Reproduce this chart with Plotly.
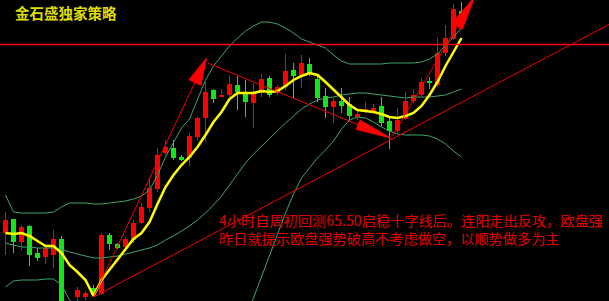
import plotly.graph_objects as go

# 4-hour bars (price)
opens = [66.13, 66.27, 66.04, 66.20, 65.93, 65.89, 65.91, 66.07, 65.34, 65.49,
         65.49, 65.58, 65.52, 66.11, 66.02, 65.99, 66.06, 66.23, 66.38, 66.57,
         66.93, 66.98, 66.89, 66.88, 67.09, 67.28, 67.56, 67.49, 67.51, 67.61,
         67.53, 67.43, 67.53, 67.68, 67.53, 67.59, 67.76, 67.71, 67.82, 67.67,
         67.50, 67.39, 67.45, 67.42, 67.29, 67.34, 67.35, 67.40, 67.25, 67.15,
         67.27, 67.45, 67.51, 67.65, 67.61, 67.93, 68.07, 68.35]
highs = [66.34, 66.27, 66.21, 66.21, 65.98, 65.99, 66.16, 66.10, 65.43, 65.59,
         65.55, 65.61, 66.13, 66.13, 66.03, 66.09, 66.26, 66.43, 66.69, 66.98,
         67.06, 67.06, 66.91, 67.13, 67.30, 67.64, 67.57, 67.57, 67.71, 67.70,
         67.66, 67.63, 67.72, 67.70, 67.61, 67.92, 67.83, 67.91, 67.88, 67.72,
         67.58, 67.49, 67.58, 67.49, 67.35, 67.44, 67.42, 67.49, 67.29, 67.38,
         67.54, 67.57, 67.68, 67.69, 68.08, 68.21, 68.42, 68.44]
lows = [65.91, 65.93, 65.96, 65.80, 65.85, 65.82, 65.78, 65.26, 65.18, 65.44,
        65.46, 65.50, 65.51, 65.96, 65.97, 65.96, 66.03, 66.22, 66.34, 66.54,
        66.91, 66.86, 66.85, 66.80, 67.06, 67.04, 67.43, 67.49, 67.49, 67.36,
        67.29, 67.18, 67.49, 67.49, 67.51, 67.56, 67.48, 67.58, 67.70, 67.44,
        67.28, 67.23, 67.33, 67.24, 67.26, 67.33, 67.33, 67.20, 66.97, 67.13,
        67.26, 67.43, 67.49, 67.57, 67.59, 67.90, 68.06, 68.30]
closes = [66.26, 66.04, 66.19, 65.91, 65.88, 65.98, 66.07, 65.34, 65.28, 65.56,
          65.53, 65.51, 66.11, 66.02, 65.98, 66.07, 66.23, 66.39, 66.58, 66.91,
          66.99, 66.88, 66.86, 67.10, 67.28, 67.54, 67.47, 67.51, 67.62, 67.54,
          67.44, 67.53, 67.67, 67.51, 67.59, 67.75, 67.70, 67.83, 67.73, 67.48,
          67.39, 67.45, 67.40, 67.30, 67.32, 67.37, 67.38, 67.23, 67.15, 67.26,
          67.45, 67.51, 67.64, 67.63, 67.93, 68.08, 68.37, 68.32]

# Moving average (yellow)
ma_line = [66.13, 66.12, 66.13, 66.10, 66.05, 66.00, 66.00, 65.93, 65.81, 65.74,
           65.66, 65.50, 65.66, 65.76, 65.86, 65.96, 66.07, 66.13, 66.24, 66.42,
           66.59, 66.71, 66.81, 66.89, 66.99, 67.11, 67.24, 67.34, 67.47, 67.53,
           67.53, 67.53, 67.55, 67.54, 67.55, 67.60, 67.66, 67.70, 67.73, 67.71,
           67.64, 67.56, 67.48, 67.41, 67.36, 67.35, 67.34, 67.32, 67.29, 67.28,
           67.30, 67.33, 67.40, 67.51, 67.64, 67.80, 67.94, 68.08]

# Bollinger bands
boll_upper = [66.51, 66.34, 66.33, 66.33, 66.33, 66.33, 66.34, 66.39, 66.43, 66.43,
              66.43, 66.42, 66.42, 66.43, 66.44, 66.45, 66.47, 66.50, 66.56, 66.71,
              66.89, 67.04, 67.18, 67.27, 67.46, 67.66, 67.80, 67.90, 68.00, 68.08,
              68.15, 68.20, 68.24, 68.24, 68.22, 68.18, 68.13, 68.07, 68.04, 68.01,
              67.98, 67.91, 67.85, 67.82, 67.82, 67.82, 67.82, 67.82, 67.83, 67.83,
              67.83, 67.83, 67.84, 67.87, 67.92, 68.00, 68.09, 68.18]
boll_mid = [66.03, 66.01, 65.99, 65.99, 65.98, 65.98, 65.98, 65.97, 65.94, 65.92,
            65.90, 65.88, 65.88, 65.89, 65.90, 65.92, 65.94, 65.96, 65.98, 66.01,
            66.06, 66.10, 66.15, 66.20, 66.26, 66.33, 66.41, 66.50, 66.61, 66.72,
            66.83, 66.92, 67.00, 67.07, 67.15, 67.23, 67.30, 67.37, 67.42, 67.46,
            67.48, 67.49, 67.51, 67.52, 67.53, 67.53, 67.52, 67.51, 67.50, 67.49,
            67.48, 67.49, 67.49, 67.49, 67.50, 67.51, 67.54, 67.57]
boll_lower = [65.59, 65.65, 65.66, 65.66, 65.66, 65.67, 65.67, 65.61, 65.46, 65.40,
              65.37, 65.34, 65.34, 65.35, 65.36, 65.39, 65.41, 65.42, 65.40, 65.31,
              65.23, 65.16, 65.12, 65.12, 65.06, 65.02, 65.02, 65.10, 65.16, 65.21,
              65.31, 65.48, 65.69, 65.90, 66.13, 66.33, 66.52, 66.68, 66.78, 66.88,
              66.96, 67.05, 67.17, 67.26, 67.29, 67.28, 67.24, 67.19, 67.15, 67.12,
              67.11, 67.11, 67.11, 67.10, 67.07, 67.02, 66.95, 66.89]

# Annotations
title_text = "金石盛独家策略"
note_lines = ["4小时自周初回测65.50启稳十字线后。连阳走出反攻，欧盘强",
              "昨日就提示欧盘强势破高不考虑做空，以顺势做多为主"]

# Key level and trend lines, as (bar index, price)
resistance_level = 68.015
support_line = [(11.0, 65.49), (76.0, 68.24)]
rally_arrow = [(11.0, 65.49), (25.125, 67.88)]
channel_arrow = [(25.25, 67.83), (48.125, 67.08)]
breakout_arrow = [(48.375, 67.10), (58.625, 68.49)]

W, H = 609, 301
x_range = [-0.6875, 75.4375]
y_range = [65.45, 68.46]
px_x = W / (x_range[1] - x_range[0])
px_y = H / (y_range[1] - y_range[0])

UP = "#ff0000"
DOWN = "#14e614"
BAND = "#3fa36b"
LINE_RED = "#f00000"

x = list(range(len(opens)))
fig = go.Figure()

# Bollinger bands
for band in (boll_upper, boll_mid, boll_lower):
    fig.add_trace(go.Scatter(x=x, y=band, mode="lines",
                             line=dict(color=BAND, width=1)))


def candles(is_up, color):
    idx = [i for i in x if (closes[i] >= opens[i]) == is_up]
    wx, wy = [], []
    for i in idx:
        wx += [i, i, None]
        wy += [lows[i], highs[i], None]
    fig.add_trace(go.Scatter(x=wx, y=wy, mode="lines",
                             line=dict(color=color, width=1)))
    fig.add_trace(go.Bar(
        x=idx,
        y=[max(abs(closes[i] - opens[i]), 0.01) for i in idx],
        base=[min(opens[i], closes[i]) for i in idx],
        width=0.625,
        marker=dict(color=color, line=dict(width=0)),
    ))


candles(True, UP)
candles(False, DOWN)

# Moving average
fig.add_trace(go.Scatter(x=x, y=ma_line, mode="lines",
                         line=dict(color="#ffff00", width=2.5)))

# Resistance level
fig.add_trace(go.Scatter(x=x_range, y=[resistance_level] * 2, mode="lines",
                         line=dict(color="#ff0000", width=1.3)))

# Rising support
fig.add_trace(go.Scatter(x=[p[0] for p in support_line],
                         y=[p[1] for p in support_line], mode="lines",
                         line=dict(color=LINE_RED, width=1)))


def arrow(points, length, half):
    (tx, ty), (hx, hy) = points
    dx = (hx - tx) * px_x
    dy = (hy - ty) * px_y
    n = (dx * dx + dy * dy) ** 0.5
    ux, uy = dx / n, dy / n
    vx, vy = -uy, ux
    bx, by = -ux * length, -uy * length
    base = (hx + bx / px_x, hy + by / px_y)
    wedge_x = [hx, hx + (bx + vx * half) / px_x, hx + (bx - vx * half) / px_x, hx]
    wedge_y = [hy, hy + (by + vy * half) / px_y, hy + (by - vy * half) / px_y, hy]
    fig.add_trace(go.Scatter(x=[tx, base[0]], y=[ty, base[1]], mode="lines",
                             line=dict(color=LINE_RED, width=1)))
    fig.add_trace(go.Scatter(x=wedge_x, y=wedge_y, mode="lines", fill="toself",
                             fillcolor="#ff0000",
                             line=dict(color="#ff0000", width=1)))


arrow(rally_arrow, 27, 6.5)
arrow(channel_arrow, 35, 5)
arrow(breakout_arrow, 34, 6)

annotations = [
    dict(text=title_text, x=13 / W, y=1 - 12.5 / H, xref="paper", yref="paper",
         xanchor="left", yanchor="middle", showarrow=False,
         font=dict(family="Noto Sans CJK SC", size=14.5, color="#dcdc00", weight="bold")),
    dict(text="<br>".join(note_lines), x=217 / W, y=1 - 229.4 / H,
         xref="paper", yref="paper", xanchor="left", yanchor="middle",
         align="left", showarrow=False,
         font=dict(family="Noto Sans CJK SC", size=14.2, color="#e00000")),
]

fig.update_layout(
    width=W, height=H,
    margin=dict(l=0, r=0, t=0, b=0, pad=0),
    paper_bgcolor="#000000", plot_bgcolor="#000000",
    showlegend=False, hovermode=False,
    xaxis=dict(range=x_range, visible=False, fixedrange=True),
    yaxis=dict(range=y_range, visible=False, fixedrange=True),
    annotations=annotations,
)

fig.write_html("out.html", config={"displayModeBar": False})
